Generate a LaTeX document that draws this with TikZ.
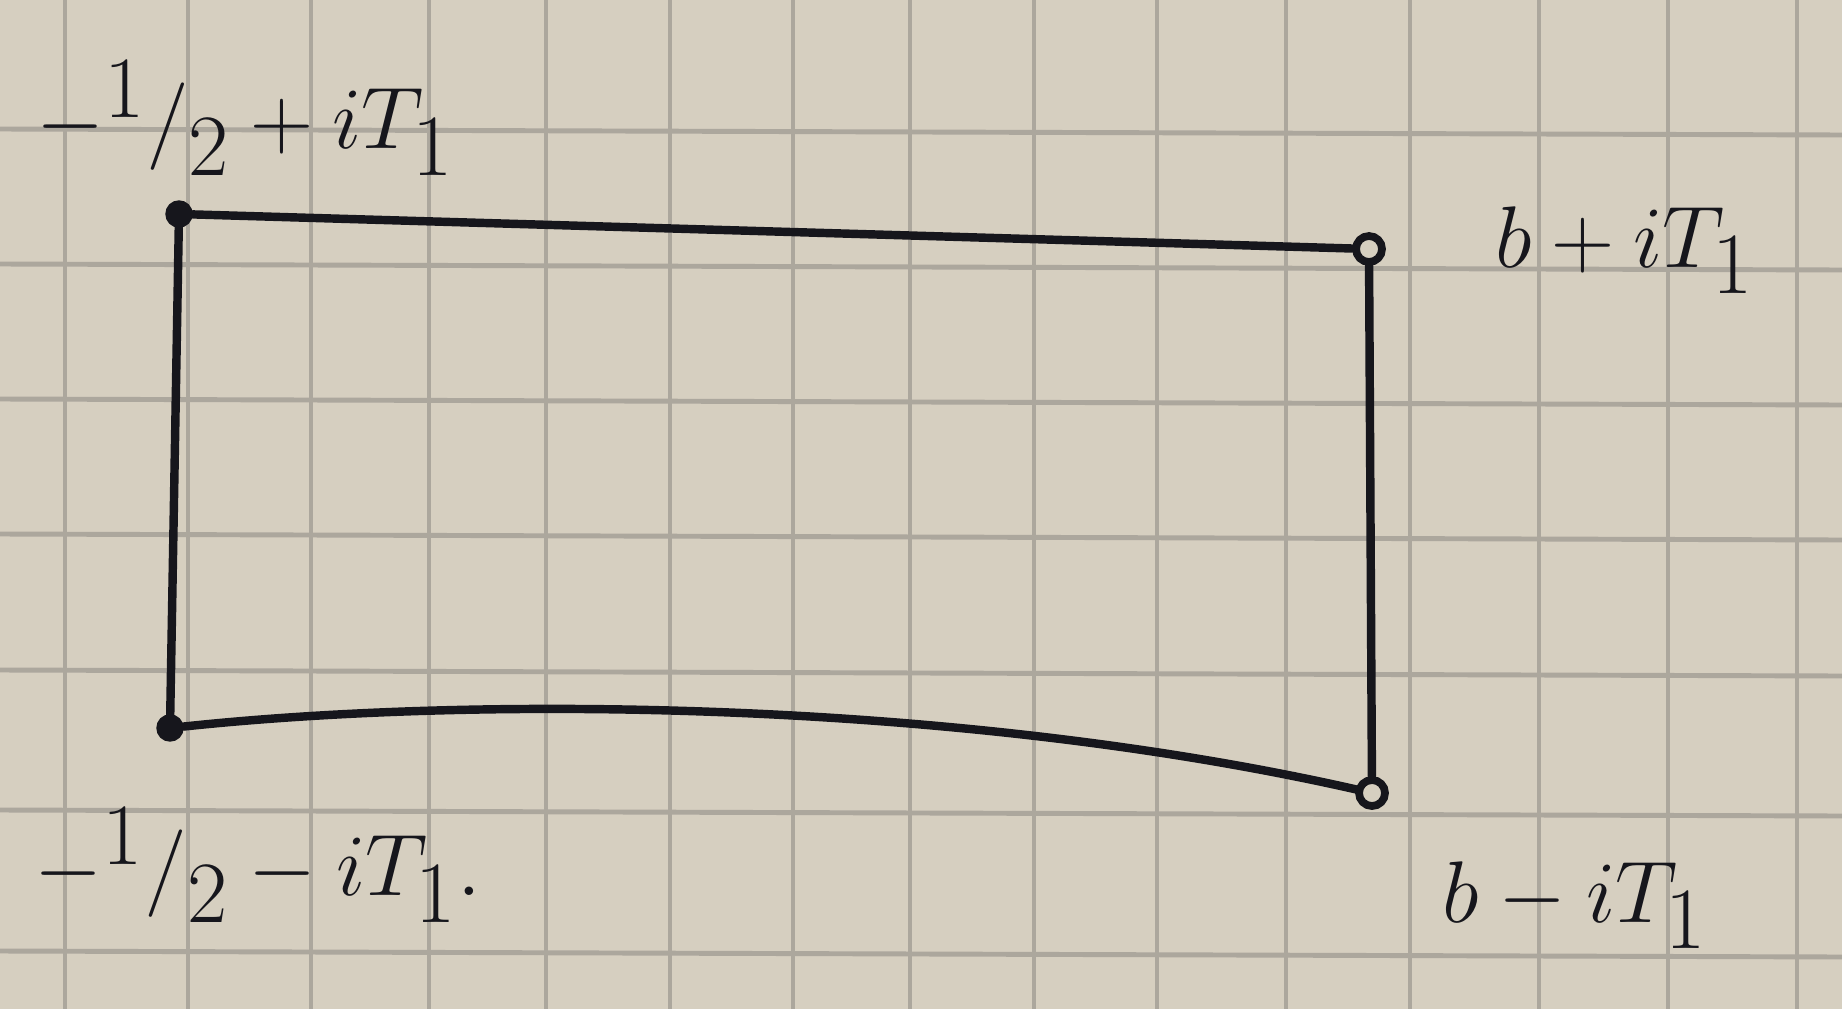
\documentclass[tikz,border=0pt]{standalone}
\usepackage{amsmath}
\begin{document}
\begin{tikzpicture}[x=0.01cm,y=-0.01cm,
  paperline/.style={draw=gridgray,line width=1.4pt},
  edge/.style={draw=inkblack,line width=2.4pt,line cap=round},
  filleddot/.style={circle,fill=inkblack,draw=inkblack,inner sep=0pt,minimum size=0.26cm},
  opendot/.style={circle,fill=paper,draw=inkblack,line width=2.2pt,inner sep=0pt,minimum size=0.26cm},
  lbl/.style={inkblack,font=\fontsize{42}{50}\selectfont,inner sep=0pt}]
\definecolor{paper}{RGB}{214,207,192}
\definecolor{gridgray}{RGB}{172,167,157}
\definecolor{inkblack}{RGB}{22,22,28}
\useasboundingbox (0,0) rectangle (1842,1009);
\fill[paper] (0,0) rectangle (1842,1009);
% grid of the paper
\foreach \gx in {65,188,311,429,546,670,793,910,1034,1157,1286,1410,1539,1668,1797}
  \draw[paperline] (\gx,0) -- (\gx,1009);
\foreach \gy in {129,264,399,534,670,810,951}
  \draw[paperline] (0,\gy) -- (1842,\gy+6);
% corners
\node[filleddot] (tl) at (179,214) {};
\node[opendot]   (tr) at (1369,249) {};
\node[opendot]   (br) at (1372,793) {};
\node[filleddot] (bl) at (170,728) {};
% edges
\draw[edge] (tl) -- (tr);
\draw[edge] (tr) -- (br);
\draw[edge] (bl) .. controls (480,695) and (960,700) .. (br);
\draw[edge] (tl) -- (bl);
% labels
\node[lbl] (ltl) at (245,118) {$-{}^{1}/{}_{2}+iT_1$};
\node[lbl] (ltr) at (1625,250) {$b+iT_1$};
\node[lbl] (lbl) at (258,865) {$-{}^{1}/{}_{2}-iT_1.$};
\node[lbl] (lbr) at (1575,905) {$b-iT_1$};
\end{tikzpicture}
\end{document}
